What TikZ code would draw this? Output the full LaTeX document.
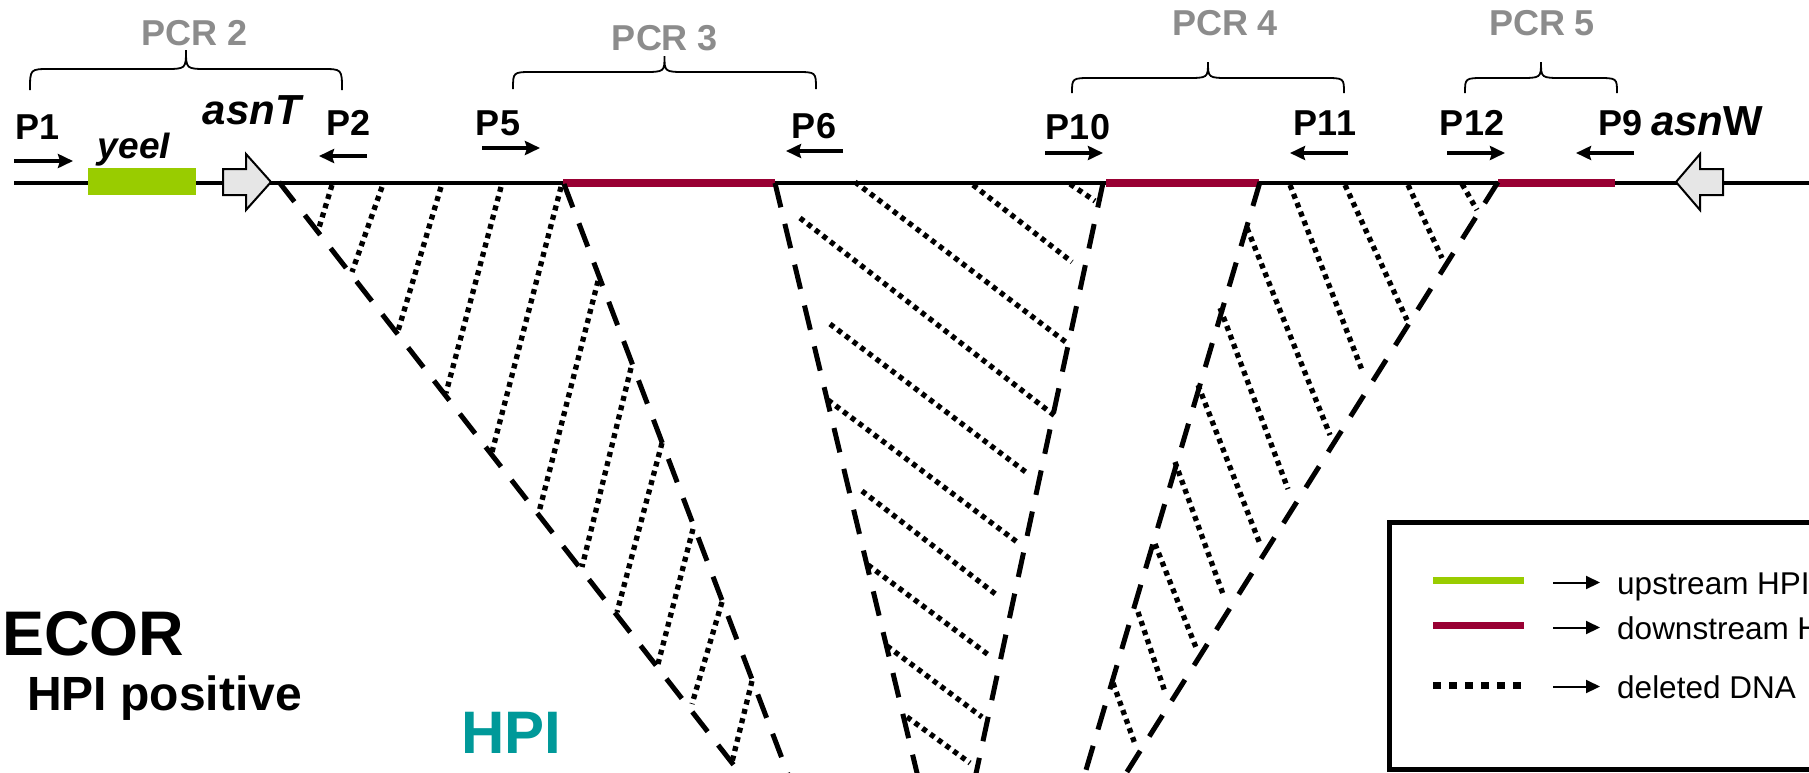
\documentclass[tikz,border=0pt]{standalone}
\usepackage{fontspec}
\setmainfont{Liberation Sans}
\usetikzlibrary{arrows.meta}
\definecolor{hpigreen}{HTML}{99CC00}
\definecolor{hpired}{HTML}{990033}
\definecolor{hpiteal}{HTML}{009999}
\definecolor{pcrgray}{RGB}{140,140,140}
\definecolor{genefill}{HTML}{E6E6E6}
\newcommand{\myfs}[1]{\fontsize{#1}{#1}\selectfont}
\newcommand{\pcrbrace}[5]{%
  \draw[bracepath] (#1,#3) .. controls (#1,#4) .. ({#1+20},#4)
    -- ({(#1+#2)/2-22},#4) .. controls ({(#1+#2)/2},#4) .. ({(#1+#2)/2},#5)
    .. controls ({(#1+#2)/2},#4) .. ({(#1+#2)/2+22},#4)
    -- ({#2-20},#4) .. controls (#2,#4) .. (#2,#3);}
\begin{document}
\begin{tikzpicture}[x=1pt,y=-1pt,
  lbl/.style={inner sep=0pt, anchor=base, font=\bfseries\myfs{36}},
  pcr/.style={inner sep=0pt, anchor=base, text=pcrgray, font=\bfseries\myfs{36}},
  gene/.style={inner sep=0pt, anchor=base, font=\bfseries\itshape\myfs{42}},
  primer/.style={line width=4.5pt, -{Stealth[length=15pt,width=14pt,inset=2pt]}},
  bracepath/.style={line width=1.8pt},
  vline/.style={line width=5pt, dash pattern=on 25pt off 17pt},
  hatch/.style={line width=5.3pt, dash pattern=on 5pt off 4.6pt},
  legtxt/.style={inner sep=0pt, anchor=base west, font=\myfs{31.5}},
  legarrow/.style={line width=2pt, -{Triangle[length=14pt,width=13pt]}},
  genearrow/.style={line width=2pt, fill=genefill, line join=miter},
]
\fill[white] (0,0) rectangle (1809,772);
\useasboundingbox (0,0) rectangle (1809,772);

% main DNA line
\draw[line width=3.2pt] (14,183) -- (1820,183);
% yeeI box
\node[fill=hpigreen, minimum width=108pt, minimum height=27pt, inner sep=0pt] (yeeIbox) at (142,181.5) {};
% HPI flanks
\draw[hpired, line width=7.5pt] (563,183) -- (775,183);
\draw[hpired, line width=7.5pt] (1106,183) -- (1259,183);
\draw[hpired, line width=7.5pt] (1498,183) -- (1615,183);

% hatching (deleted DNA) V1
\draw[hatch] (332,185) -- (318,231);
\draw[hatch] (382,187) -- (352,272);
\draw[hatch] (441,187) -- (398,331);
\draw[hatch] (501,187) -- (446,393);
\draw[hatch] (561,187) -- (492,452);
\draw[hatch] (598,281) -- (539,512);
\draw[hatch] (631,368) -- (582,567);
\draw[hatch] (662,443) -- (617,612);
\draw[hatch] (693,529) -- (658,664);
\draw[hatch] (722,602) -- (692,704);
\draw[hatch] (752,681) -- (732,762);
% V2
\draw[hatch] (1070,184) -- (1095,201);
\draw[hatch] (973,185) -- (1072,262);
\draw[hatch] (855,182) -- (1067,343);
\draw[hatch] (800,218) -- (1055,416);
\draw[hatch] (830,324) -- (1027,473);
\draw[hatch] (828,400) -- (1017,542);
\draw[hatch] (862,491) -- (998,596);
\draw[hatch] (868,565) -- (990,656);
\draw[hatch] (887,646) -- (982,717);
\draw[hatch] (907,717) -- (970,763);
% V3
\draw[hatch] (1462,184) -- (1477,210);
\draw[hatch] (1408,185) -- (1442,258);
\draw[hatch] (1345,185) -- (1407,320);
\draw[hatch] (1290,185) -- (1362,370);
\draw[hatch] (1247,228) -- (1330,435);
\draw[hatch] (1220,308) -- (1288,489);
\draw[hatch] (1198,385) -- (1260,544);
\draw[hatch] (1175,462) -- (1223,594);
\draw[hatch] (1155,544) -- (1197,650);
\draw[hatch] (1138,612) -- (1165,692);
\draw[hatch] (1113,683) -- (1135,744);

% dashed borders
\draw[vline] (279,182) -- (761,800);
\draw[vline] (564,184) -- (797.8,800);
\draw[vline] (775,183) -- (923.5,800);
\draw[vline] (1103,183) -- (970.3,800);
\draw[vline] (1260,182) -- (1077.1,800);
\draw[vline] (1498,182) -- (1109.3,800);

% genes asnT and asnW
\draw[genearrow] (223,169) -- (246,169) -- (246,154) -- (271,182) -- (246,210) -- (246,195) -- (223,195) -- cycle;
\draw[genearrow] (1723,169) -- (1700,169) -- (1700,154) -- (1676,182) -- (1700,210) -- (1700,195) -- (1723,195) -- cycle;

% PCR braces
\pcrbrace{30}{342}{90}{69}{50}
\pcrbrace{513}{816}{89}{72}{56}
\pcrbrace{1072}{1344}{93}{78}{62}
\pcrbrace{1465}{1617}{93}{78}{62}
\node[pcr] (pcr2) at (195,45) {PCR 2};
\node[pcr] (pcr3) at (665,50) {PCR 3};
\node[pcr] (pcr4) at (1225,35) {PCR 4};
\node[pcr] (pcr5) at (1542,35) {PCR 5};

% primers
\node[lbl] (p1) at (38,139) {P1};
\node[lbl] (p2) at (349,135) {P2};
\node[lbl] (p5) at (498,135) {P5};
\node[lbl] (p6) at (814,138) {P6};
\node[lbl] (p10) at (1078,139) {P10};
\node[lbl] (p11) at (1325,135) {P11};
\node[lbl] (p12) at (1472,135) {P12};
\node[lbl] (p9) at (1620,135) {P9};
\draw[primer] (14,161) -- (73,161);
\draw[primer] (367,156) -- (319,156);
\draw[primer] (482,148) -- (540,148);
\draw[primer] (843,151) -- (786,151);
\draw[primer] (1045,153) -- (1103,153);
\draw[primer] (1348,153) -- (1290,153);
\draw[primer] (1447,153) -- (1505,153);
\draw[primer] (1634,153) -- (1576,153);

% gene labels
\node[gene] (asnT) at (252,124) {asnT};
\node[gene, anchor=base west] (asnW) at (1651,135) {asn\upshape W};
\node[inner sep=0pt, anchor=base, font=\bfseries\itshape\myfs{37}] (yeeI) at (134,158) {yeeI};

% big labels
\node[inner sep=0pt, anchor=base west, font=\bfseries\myfs{63}] (ecor) at (2,655) {ECOR};
\node[inner sep=0pt, anchor=base west, font=\bfseries\myfs{48}] (hpipos) at (27,710) {HPI positive};
\node[inner sep=0pt, anchor=base west, text=hpiteal, font=\bfseries\myfs{60}] (hpi) at (461,753) {HPI};

% legend
\draw[line width=5pt] (1389,522) rectangle (1845,769);
\draw[hpigreen, line width=7.5pt] (1433,580.5) -- (1524,580.5);
\draw[hpired, line width=7.5pt] (1433,625.5) -- (1524,625.5);
\draw[line width=6.5pt, dash pattern=on 8pt off 8pt] (1433,685.5) -- (1522,685.5);
\draw[legarrow] (1553,582.5) -- (1600,582.5);
\draw[legarrow] (1553,627.5) -- (1600,627.5);
\draw[legarrow] (1553,686.5) -- (1600,686.5);
\node[legtxt] (lup) at (1617,594) {upstream HPI};
\node[legtxt] (ldown) at (1617,639) {downstream HPI};
\node[legtxt] (ldel) at (1617,698) {deleted DNA};
\end{tikzpicture}
\end{document}
